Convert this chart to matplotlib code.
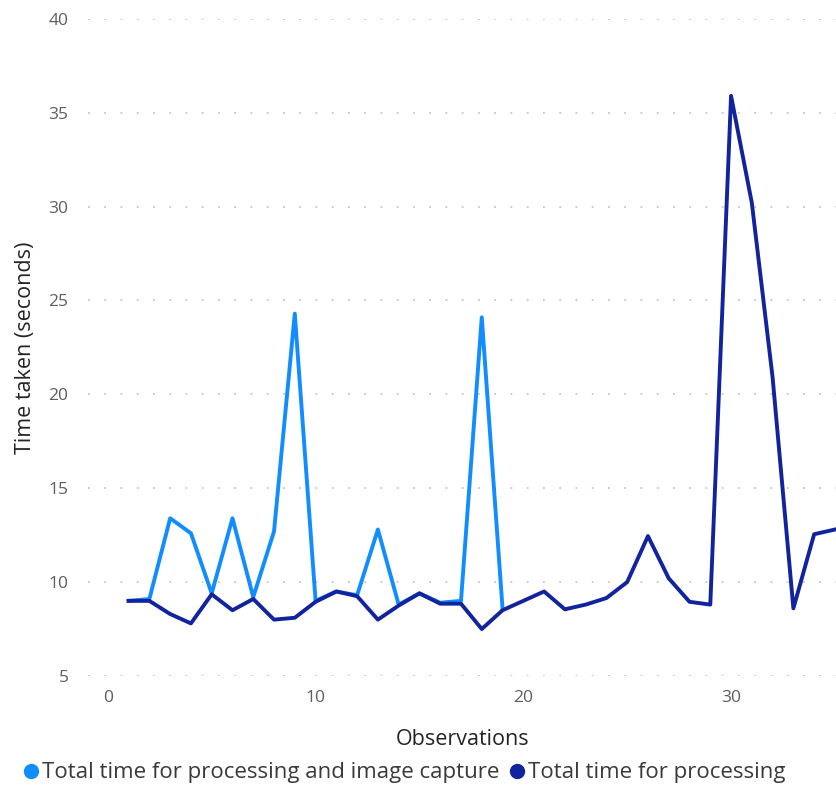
import matplotlib.pyplot as plt
from matplotlib.lines import Line2D

plt.rcParams['font.family'] = ['Open Sans', 'DejaVu Sans']

# observations
obs_capture = list(range(1, 20))
obs_process = list(range(1, 36))

# total time for processing and image capture (s)
capture = [9.0, 9.1, 13.4, 12.6, 9.4, 13.4, 9.2, 12.7, 24.3, 9.0,
           9.5, 9.3, 12.8, 8.8, 9.4, 8.9, 9.0, 24.1, 8.6]

# total time for processing (s)
process = [9.0, 9.0, 8.3, 7.8, 9.35, 8.5, 9.1, 8.0, 8.1, 8.95,
           9.5, 9.25, 8.0, 8.75, 9.4, 8.85, 8.85, 7.5, 8.5, 9.0,
           9.5, 8.55, 8.8, 9.15, 10.0, 12.45, 10.2, 8.95, 8.8, 35.9,
           30.2, 20.9, 8.6, 12.55, 12.8]

light = '#118DFF'
dark = '#12239E'
tick_col = '#605E5C'

fig = plt.figure(figsize=(8.37, 7.86), dpi=100)
ax = fig.add_axes([0.105, 0.14, 0.895, 0.836])

ax.plot(obs_capture, capture, color=light, lw=2.8)
ax.plot(obs_process, process, color=dark, lw=2.8)

ax.set_xlim(-0.96, 35.1)
ax.set_ylim(5, 40)
ax.set_xticks([0, 10, 20, 30])
ax.set_yticks(range(5, 41, 5))

for s in ax.spines.values():
    s.set_visible(False)
ax.grid(axis='y', color='#C8C6C4', lw=1.3, linestyle=(0, (1, 8)))
ax.set_axisbelow(True)
ax.tick_params(length=0, labelsize=12.5, colors=tick_col, pad=14)
ax.tick_params(axis='x', pad=10)

ax.set_xlabel('Observations', fontsize=15.5, color='#252423', labelpad=17)
ax.set_ylabel('Time taken (seconds)', fontsize=15.5, color='#252423', labelpad=9)

handles = [Line2D([], [], marker='o', ls='', color=light, markersize=10),
           Line2D([], [], marker='o', ls='', color=dark, markersize=10)]
fig.legend(handles, ['Total time for processing and image capture',
                     'Total time for processing'],
           loc='lower left', bbox_to_anchor=(0.0, -0.022), ncol=2, frameon=False,
           fontsize=16, labelcolor='#3B3A39', handletextpad=0.0,
           columnspacing=0.3, handlelength=1.0)

fig.savefig('out.png', dpi=100)
